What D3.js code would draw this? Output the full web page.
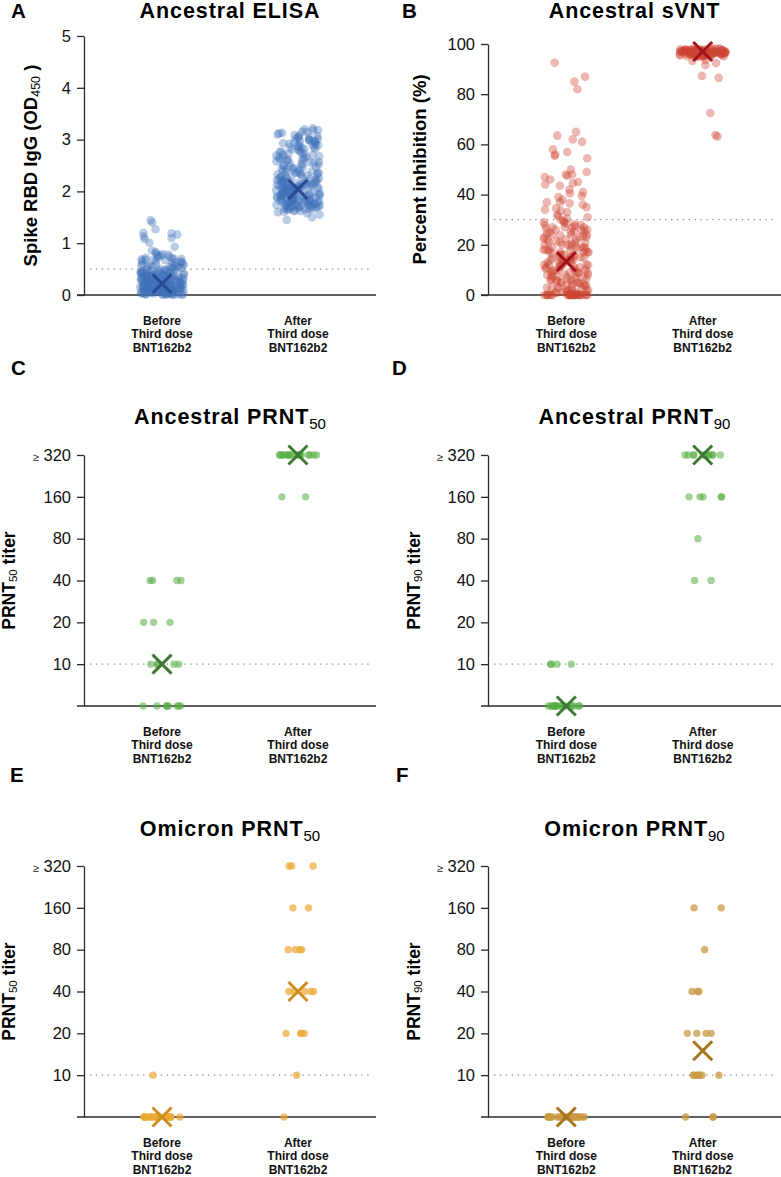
<!DOCTYPE html>
<html><head><meta charset="utf-8">
<script src="https://cdn.jsdelivr.net/npm/d3@7"></script>
<style>
body{margin:0;background:#fff;}
svg{display:block;font-family:"Liberation Sans",Arial,Helvetica,sans-serif;}
</style></head><body>
<svg id="chart" width="781" height="1177"></svg>
<script>
// ---------------- DATA ----------------
const groups = ["Before", "After"];
const groupLabels = [["Before", "Third dose", "BNT162b2"], ["After", "Third dose", "BNT162b2"]];

// Panel A – Ancestral ELISA (OD450)
const elisaBefore = [1.44,1.40,1.27,1.20,1.19,1.17,1.13,1.10,1.08,1.01,0.93,0.86,0.83,0.81,
0.79,0.78,0.77,0.76,0.74,0.73,0.72,0.71,0.70,0.69,0.68,0.68,0.67,0.66,0.65,0.64,0.63,0.62,0.61,0.60,
0.59,0.58,0.57,0.57,0.56,0.55,0.54,0.53,0.53,0.52,0.51,0.50,0.50,0.49,0.48,0.47,0.47,0.46,0.45,0.45,0.44,0.43,0.43,0.42,0.42,0.41,0.41,0.40,0.40,0.40,
0.39,0.39,0.38,0.38,0.37,0.37,0.36,0.36,0.35,0.35,0.34,0.34,0.33,0.33,0.32,0.32,0.31,0.31,0.30,0.30,0.30,0.29,0.29,0.28,0.28,0.27,0.27,0.26,0.26,0.25,0.25,0.25,0.24,0.24,0.23,0.23,0.22,0.22,0.22,0.21,0.21,0.21,0.20,0.20,0.20,
0.19,0.19,0.19,0.18,0.18,0.18,0.17,0.17,0.17,0.16,0.16,0.16,0.15,0.15,0.15,0.14,0.14,0.14,0.13,0.13,0.13,0.12,0.12,0.12,0.11,0.11,0.11,0.10,0.10,0.10,
0.09,0.09,0.09,0.08,0.08,0.08,0.07,0.07,0.07,0.06,0.06,0.06,0.05,0.05,0.05,0.04,0.04,0.04,0.03,0.03,0.02,0.02,0.01,0.01,0.00,
0.28,0.24,0.19,0.15,0.12,0.09,0.06,0.03,0.02,0.01,0.18,0.14,0.11,0.08,0.05,
0.48,0.46,0.44,0.41,0.38,0.36,0.33,0.31,0.29,0.27,0.26,0.24,0.23,0.21,0.19,0.18,0.17,0.16,0.14,0.13,0.12,0.11,0.10,0.09,0.08,0.07,0.06,0.05,0.04,0.03,
0.02,0.01,0.00,0.00,0.02,0.04,0.06,0.08,0.10,0.12,0.15,0.17,0.20,0.23,0.26,0.29,0.32,0.35,0.38,0.42,0.54,0.58,0.64,0.70,0.75];
const elisaAfter = [1.45,1.50,1.55,1.58,1.60,1.62,1.63,1.65,1.66,1.67,1.68,1.69,1.70,1.70,1.71,1.72,1.73,1.74,1.75,1.75,1.76,1.77,1.78,1.79,1.80,1.80,1.81,1.82,1.83,1.84,1.85,1.85,1.86,1.87,1.88,1.89,1.90,1.90,1.91,1.92,1.93,1.94,1.95,1.95,1.96,1.97,1.98,1.99,2.00,2.00,
2.01,2.02,2.03,2.04,2.05,2.05,2.06,2.07,2.08,2.09,2.10,2.10,2.11,2.12,2.13,2.14,2.15,2.16,2.17,2.18,2.19,2.20,2.21,2.22,2.23,2.24,2.25,2.26,2.27,2.28,2.30,2.31,2.32,2.33,2.35,2.36,2.37,2.38,2.40,2.41,2.42,2.44,2.45,2.47,2.48,2.50,
2.51,2.53,2.55,2.56,2.58,2.60,2.62,2.63,2.65,2.67,2.69,2.70,2.72,2.74,2.76,2.78,2.80,2.82,2.84,2.85,2.87,2.89,2.90,2.92,2.93,2.95,2.96,2.98,3.00,3.01,3.03,3.05,3.07,3.09,3.12,3.15,3.18,3.20,3.22,
1.64,1.68,1.72,1.76,1.79,1.83,1.87,1.91,1.94,1.97,2.02,2.06,2.08,1.73,1.81,1.89,1.93,1.99,2.03,2.11,1.66,1.71,1.78,1.84,1.88,1.96,2.01,2.07,2.15,2.22,
2.90,3.00,3.05,3.10,3.15,2.95,2.85,2.75,2.55,2.35,2.65,3.18,2.98,2.82,2.61,
1.61,1.65,1.69,1.72,1.74,1.77,1.80,1.82,1.86,1.88,1.90,1.92,1.95,1.98,2.00,2.04,2.06,2.09,2.12,2.14,2.17,2.19,2.21,2.25,2.28,2.32,2.36,2.39,2.43,2.46,
2.52,2.57,2.61,2.66,2.71,2.77,2.81,2.86,2.91,2.97,3.02,3.08,3.13,1.70,1.78,1.85,1.93,2.01,2.09,2.18,1.62,1.75,1.83,1.91,1.99,2.05,2.13,2.27,2.49,2.68];
const elisaMedian = [0.22, 2.04];
const elisaTicks = [0, 1, 2, 3, 4, 5];
const elisaCutoff = 0.5;

// Panel B – Ancestral sVNT (% inhibition)
const svntBefore = [92.5,87,85,82,65,63.5,61,58,56,55.5,54.5,50,49,48,48,47,46,45,44,43.5,42,41,39.5,39,38,37,37,36,35,34,33.5,33,32,31,30.5,30,
29,29,28,28,27,27,26,26,25,25,24,24,23,23,22,22,21,21,20,20,20,19,19,19,18,18,18,17,17,17,16,16,16,15,15,15,14,14,14,13,13,13,12,12,12,11,11,11,10,10,10,
9,9,9,8,8,8,7,7,7,6,6,6,5,5,5,4,4,4,3,3,3,2,2,2,1,1,1,
28.5,26.5,24.5,22.5,21.5,19.5,17.5,16.5,15.5,14.5,13.5,12.5,11.5,10.5,9.5,8.5,7.5,6.5,5.5,4.5,3.5,2.5,1.5,0.5,27.5,25.5,23.5,20.5,18.5,
0,0,0,0,0,0,0,0,0,0,0,0,0,0,0,0,0,0,0,0,0,0,
29.5,28.2,26.8,25.3,23.8,22.2,20.8,19.2,17.8,16.2,14.8,13.2,11.8,10.2,8.8,7.2,5.8,4.2,2.8,1.2,
27,24,21,18,15,12,9,6,3,1,26,23,17,14,11,8,5,2,0.3,0.8,
44.5,40.5,36.5,34.5,31.5,47.5,57,62,0,0,0,0,0,0];
const svntAfter = [98.0,97.8,97.6,97.4,97.2,97.0,96.8,96.6,96.4,96.2,96.0,95.8,95.6,95.4,95.2,95.0,
98.2,97.9,97.7,97.5,97.3,97.1,96.9,96.7,96.5,96.3,96.1,95.9,95.7,95.5,95.3,95.1,
98.1,97.8,97.5,97.2,96.9,96.6,96.3,96.0,95.7,95.4,95.1,94.8,
98.3,97.9,97.6,97.3,97.0,96.7,96.4,96.1,95.8,95.5,95.2,94.9,
97.9,97.6,97.3,97.0,96.7,96.4,96.1,95.8,95.5,
97.8,97.5,97.2,96.9,96.6,96.3,96.0,95.7,
97.7,97.4,97.1,96.8,96.5,96.2,95.9,
97.6,97.3,97.0,96.7,96.4,96.1,
97.5,97.2,96.9,96.6,96.3,
97.4,97.1,96.8,96.5,97.0,96.8,97.2,
93.6,93.2,92.4,91.6,87.3,86.5,72.5,63.7,63.2];
const svntMedian = [13.3, 97.0];
const svntTicks = [0, 20, 40, 60, 80, 100];
const svntCutoff = 30;

// PRNT titers (5 = below detection, <10; 320 = ≥320)
const titerTicks = [10, 20, 40, 80, 160, 320];
const titerTickLabels = ["10", "20", "40", "80", "160", "≥ 320"];
const titerCutoff = 10;

// Panel C – Ancestral PRNT50
const ancPrnt50Before = [40,40,40,40,20,20,20,10,10,10,10,10,5,5,5,5,5,5,5,5];
const ancPrnt50After  = [320,320,320,320,320,320,320,320,320,320,320,320,320,320,320,320,320,320,160,160];
const ancPrnt50Median = [10, 320];
// Panel D – Ancestral PRNT90
const ancPrnt90Before = [10,10,10,10,5,5,5,5,5,5,5,5,5,5,5,5,5,5,5,5];
const ancPrnt90After  = [320,320,320,320,320,320,320,320,320,320,320,320,160,160,160,160,160,80,40,40];
const ancPrnt90Median = [5, 320];
// Panel E – Omicron PRNT50
const omiPrnt50Before = [10,5,5,5,5,5,5,5,5,5,5,5,5,5,5,5,5,5,5,5];
const omiPrnt50After  = [320,320,320,160,160,80,80,80,80,40,40,40,40,40,20,20,20,20,10,5];
const omiPrnt50Median = [5, 40];
// Panel F – Omicron PRNT90
const omiPrnt90Before = [5,5,5,5,5,5,5,5,5,5,5,5,5,5,5,5,5,5,5,5];
const omiPrnt90After  = [160,160,80,40,40,40,20,20,20,20,10,10,10,10,10,10,10,5,5,5];
const omiPrnt90Median = [5, 15];

// ---------------- DRAWING ----------------
const svg = d3.select("#chart");
const AX_COLOR = "#2b2b2b";

function addSubText(sel, parts) {
  parts.forEach(p => {
    const ts = sel.append("tspan").text(p.t);
    if (p.size) ts.attr("font-size", p.size);
    if (p.weight) ts.attr("font-weight", p.weight);
    if (p.dy) ts.attr("dy", p.dy);
    if (p.ls !== undefined) ts.attr("letter-spacing", p.ls);
  });
}

function drawPanel(cfg) {
  const g = svg.append("g");
  const x = d3.scalePoint().domain(groups).range([cfg.ax, cfg.xEnd]).padding(0.574);
  const y = cfg.log
    ? d3.scaleLog().base(2).domain([5, 320]).range([cfg.yBot, cfg.yTop])
    : d3.scaleLinear().domain(cfg.domain).range([cfg.yBot, cfg.yTop]);

  // y axis
  const yAxis = d3.axisLeft(y).tickValues(cfg.ticks).tickSize(7).tickSizeOuter(0).tickPadding(6)
    .tickFormat((d, i) => cfg.tickLabels ? cfg.tickLabels[i] : d);
  const ga = g.append("g").attr("transform", `translate(${cfg.ax},0)`).call(yAxis);
  ga.attr("font-size", null).attr("font-family", null);
  ga.select(".domain").attr("stroke", AX_COLOR).attr("stroke-width", 1.3);
  ga.selectAll(".tick line").attr("stroke", AX_COLOR).attr("stroke-width", 1.3);
  ga.selectAll(".tick text").attr("fill", "#111").style("font-size", "16.5px")
    .each(function(d) {
      const t = d3.select(this);
      const s = t.text();
      if (s.startsWith("≥")) {
        t.text("");
        t.append("tspan").style("font-size", "11px").text("≥");
        t.append("tspan").text(" " + s.slice(2));
      }
    });

  // x axis line
  g.append("line").attr("x1", cfg.ax - 7).attr("x2", cfg.xEnd).attr("y1", cfg.yBot).attr("y2", cfg.yBot)
    .attr("stroke", AX_COLOR).attr("stroke-width", 1.3);

  // cutoff dotted line
  g.append("line").attr("x1", cfg.ax + 6).attr("x2", cfg.xEnd - 4)
    .attr("y1", y(cfg.cutoff)).attr("y2", y(cfg.cutoff))
    .attr("stroke", "#8a8a8a").attr("stroke-width", 1.3).attr("stroke-dasharray", "1.3,4.6");

  // points
  cfg.series.forEach((vals, gi) => {
    const jit = d3.randomUniform.source(d3.randomLcg(cfg.seed + gi * 17))(-1, 1);
    g.append("g").selectAll("circle").data(vals).join("circle")
      .attr("cx", () => x(groups[gi]) + jit() * cfg.jw)
      .attr("cy", d => y(d))
      .attr("r", cfg.r)
      .attr("fill", cfg.color)
      .attr("fill-opacity", cfg.opacity);
  });

  // median crosses
  const s = 9.5;
  cfg.median.forEach((m, gi) => {
    const cx = x(groups[gi]), cy = y(m);
    const xg = g.append("g").attr("stroke", cfg.xColor).attr("stroke-width", 3).attr("stroke-linecap", "butt");
    xg.append("line").attr("x1", cx - s).attr("y1", cy - s).attr("x2", cx + s).attr("y2", cy + s);
    xg.append("line").attr("x1", cx - s).attr("y1", cy + s).attr("x2", cx + s).attr("y2", cy - s);
  });

  // category labels
  groups.forEach((gr, gi) => {
    const t = g.append("text").attr("x", x(gr)).attr("y", cfg.yBot + 30)
      .attr("text-anchor", "middle").attr("font-size", 12).attr("font-weight", "bold").attr("fill", "#111");
    groupLabels[gi].forEach((ln, li) => {
      t.append("tspan").attr("x", x(gr)).attr("dy", li === 0 ? 0 : 13.4).text(ln);
    });
  });

  // title
  const tt = g.append("text").attr("x", (cfg.ax + cfg.xEnd) / 2).attr("y", cfg.titleY)
    .attr("text-anchor", "middle").attr("font-size", 21.5).attr("font-weight", "bold")
    .attr("letter-spacing", 0.9).attr("fill", "#000");
  addSubText(tt, cfg.title);

  // panel letter
  g.append("text").attr("x", cfg.letterX).attr("y", cfg.letterY).attr("font-size", 20.5)
    .attr("font-weight", "bold").attr("fill", "#000").text(cfg.letter);

  // y label
  const yl = g.append("text")
    .attr("transform", `translate(${cfg.ylabX},${(cfg.yTop + cfg.yBot) / 2}) rotate(-90)`)
    .attr("text-anchor", "middle").attr("font-size", cfg.ylabSize).attr("font-weight", "bold").attr("fill", "#000");
  addSubText(yl, cfg.ylabel);
}

drawPanel({
  letter: "A", letterX: 11, letterY: 18, ax: 84, xEnd: 376, yTop: 36, yBot: 295,
  domain: [0, 5], ticks: elisaTicks, cutoff: elisaCutoff,
  series: [elisaBefore, elisaAfter], median: elisaMedian,
  color: "#3f73bb", opacity: 0.36, r: 4.3, jw: 22, seed: 11, xColor: "#2a4990",
  titleY: 18, title: [{ t: "Ancestral ELISA" }],
  ylabX: 37, ylabSize: 18.5,
  ylabel: [{ t: "Spike RBD IgG (OD" }, { t: "450", size: 12.5, weight: "normal", dy: 3 }, { t: " )", dy: -3 }]
});
drawPanel({
  letter: "B", letterX: 402, letterY: 18, ax: 488, xEnd: 781, yTop: 44, yBot: 295,
  domain: [0, 100], ticks: svntTicks, cutoff: svntCutoff,
  series: [svntBefore, svntAfter], median: svntMedian,
  color: "#cc4433", opacity: 0.38, r: 4.3, jw: 23, seed: 29, xColor: "#a3101a",
  titleY: 18, title: [{ t: "Ancestral sVNT" }],
  ylabX: 426, ylabSize: 18.5,
  ylabel: [{ t: "Percent inhibition (%)" }]
});
drawPanel({
  letter: "C", letterX: 11, letterY: 375, ax: 84, xEnd: 376, yTop: 455, yBot: 706, log: true,
  ticks: titerTicks, tickLabels: titerTickLabels, cutoff: titerCutoff,
  series: [ancPrnt50Before, ancPrnt50After], median: ancPrnt50Median,
  color: "#56ad43", opacity: 0.55, r: 3.7, jw: 19, seed: 41, xColor: "#3b7a31",
  titleY: 424, title: [{ t: "Ancestral PRNT" }, { t: "50", size: 15, weight: "normal", dy: 5, ls: 0 }],
  ylabX: 15, ylabSize: 17.5,
  ylabel: [{ t: "PRNT" }, { t: "50", size: 11.5, weight: "normal", dy: 2 }, { t: " titer", dy: -2 }]
});
drawPanel({
  letter: "D", letterX: 392, letterY: 375, ax: 488, xEnd: 781, yTop: 455, yBot: 706, log: true,
  ticks: titerTicks, tickLabels: titerTickLabels, cutoff: titerCutoff,
  series: [ancPrnt90Before, ancPrnt90After], median: ancPrnt90Median,
  color: "#56ad43", opacity: 0.55, r: 3.7, jw: 19, seed: 53, xColor: "#3b7a31",
  titleY: 424, title: [{ t: "Ancestral PRNT" }, { t: "90", size: 15, weight: "normal", dy: 5, ls: 0 }],
  ylabX: 420, ylabSize: 17.5,
  ylabel: [{ t: "PRNT" }, { t: "90", size: 11.5, weight: "normal", dy: 2 }, { t: " titer", dy: -2 }]
});
drawPanel({
  letter: "E", letterX: 10, letterY: 782, ax: 84, xEnd: 376, yTop: 866, yBot: 1117, log: true,
  ticks: titerTicks, tickLabels: titerTickLabels, cutoff: titerCutoff,
  series: [omiPrnt50Before, omiPrnt50After], median: omiPrnt50Median,
  color: "#eba935", opacity: 0.7, r: 3.7, jw: 19, seed: 67, xColor: "#cf8d1e",
  titleY: 836, title: [{ t: "Omicron PRNT" }, { t: "50", size: 15, weight: "normal", dy: 5, ls: 0 }],
  ylabX: 15, ylabSize: 17.5,
  ylabel: [{ t: "PRNT" }, { t: "50", size: 11.5, weight: "normal", dy: 2 }, { t: " titer", dy: -2 }]
});
drawPanel({
  letter: "F", letterX: 396, letterY: 782, ax: 488, xEnd: 781, yTop: 866, yBot: 1117, log: true,
  ticks: titerTicks, tickLabels: titerTickLabels, cutoff: titerCutoff,
  series: [omiPrnt90Before, omiPrnt90After], median: omiPrnt90Median,
  color: "#c99a42", opacity: 0.75, r: 3.7, jw: 19, seed: 79, xColor: "#a57520",
  titleY: 836, title: [{ t: "Omicron PRNT" }, { t: "90", size: 15, weight: "normal", dy: 5, ls: 0 }],
  ylabX: 420, ylabSize: 17.5,
  ylabel: [{ t: "PRNT" }, { t: "90", size: 11.5, weight: "normal", dy: 2 }, { t: " titer", dy: -2 }]
});
</script>
</body></html>
